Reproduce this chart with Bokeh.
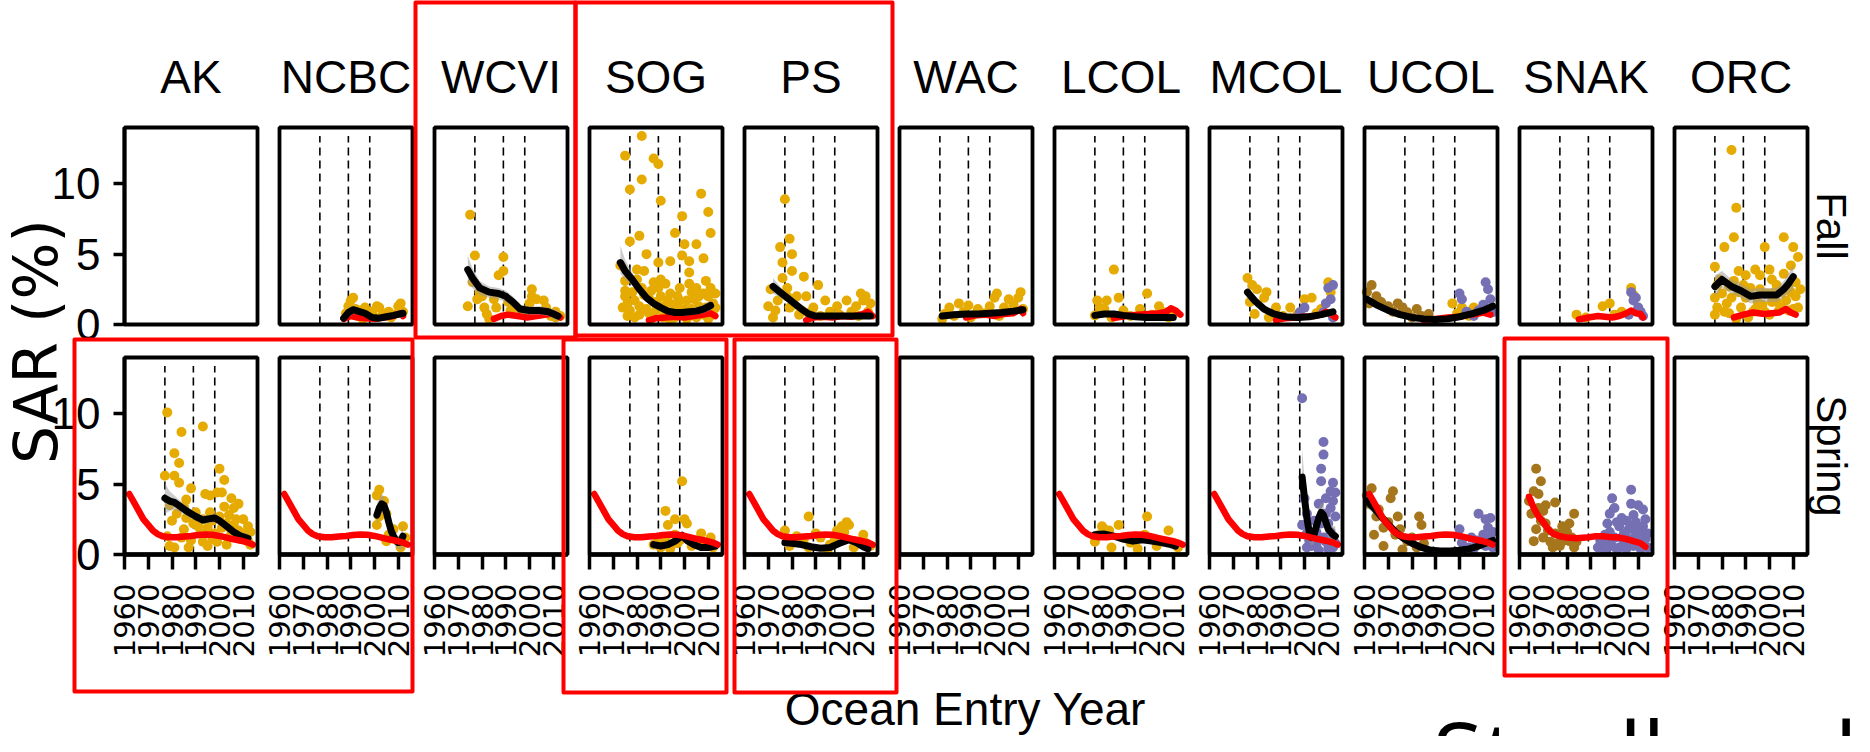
import math
from bokeh.plotting import figure
from bokeh.models import Range1d, FixedTicker, LinearAxis, Label
from bokeh.embed import file_html
from bokeh.resources import INLINE
from bokeh.core.properties import value

# ------------------------------------------------------------------ data
REGIONS = ["AK", "NCBC", "WCVI", "SOG", "PS", "WAC", "LCOL", "MCOL", "UCOL", "SNAK", "ORC"]
SEASONS = ["Fall", "Spring"]
X_TICKS = [1960, 1970, 1980, 1990, 2000, 2010]
Y_TICKS = [0, 5, 10]
REGIME_YEARS = [1977, 1989, 1998]
X_LIMITS = (1960, 2016)
Y_LIMITS = (0, 14)
Y_TITLE = "SAR (%)"
X_TITLE = "Ocean Entry Year"
SPECIES = "Steelhead"

# ---- Fall row: (ocean entry year, SAR %)
fall_ncbc_gold = [(1988, 0.8), (1989, 1.3), (1990, 1.7), (1991, 1.9), (1992, 1.1), (1993, 0.6), (1994, 1.0),
                  (1995, 0.4), (1996, 1.2), (1997, 0.7), (1999, 0.9), (2000, 0.5), (2001, 1.3), (2002, 1.2),
                  (2003, 0.6), (2005, 0.8), (2006, 0.9), (2007, 0.5), (2008, 0.7), (2010, 1.3), (2011, 1.5),
                  (2012, 0.9)]
fall_ncbc_red = [(1987, 0.4), (1990, 0.6), (1993, 0.5), (1996, 0.45), (2000, 0.4), (2004, 0.5), (2008, 0.6),
                 (2011, 0.8), (2012, 0.6)]
fall_ncbc_smooth = [(1987, 0.45, 0.2, 0.75), (1989, 0.85, 0.5, 1.2), (1991, 1.05, 0.75, 1.35), (1993, 0.95, 0.7, 1.2),
                    (1996, 0.8, 0.6, 1.0), (1999, 0.5, 0.3, 0.7), (2002, 0.45, 0.25, 0.65), (2005, 0.55, 0.35, 0.75),
                    (2008, 0.65, 0.45, 0.85), (2012, 0.8, 0.5, 1.1)]

fall_wcvi_gold = [(1975, 7.8), (1977, 4.9), (1989, 4.8), (1989, 3.8), (1987, 3.5), (1974, 1.3), (1978, 1.8),
                  (1981, 1.2), (1982, 0.75), (1985, 1.8), (2001, 2.5), (2001, 2.0), (2003, 1.8), (2000, 1.5),
                  (2006, 1.7), (2007, 1.2), (2011, 0.9), (1991, 1.6), (1996, 1.0), (1976, 3.0), (1979, 2.3),
                  (1992, 1.0), (2004, 0.75), (2011, 0.5), (1983, 0.4), (1994, 1.3), (1998, 0.8), (2009, 0.6),
                  (2013, 0.6), (1980, 2.0), (1986, 1.2)]
fall_wcvi_red = [(1985, 0.4), (1988, 0.6), (1991, 0.7), (1995, 0.6), (1999, 0.5), (2003, 0.6), (2007, 0.7),
                 (2010, 0.8), (2013, 0.5)]
fall_wcvi_smooth = [(1974, 3.9, 3.0, 4.9), (1976, 3.3, 2.6, 4.0), (1979, 2.6, 2.1, 3.1), (1983, 2.3, 1.9, 2.7),
                    (1987, 2.2, 1.8, 2.6), (1990, 2.0, 1.6, 2.4), (1993, 1.6, 1.2, 2.0), (1996, 1.1, 0.8, 1.4),
                    (2000, 1.0, 0.7, 1.3), (2004, 1.0, 0.7, 1.3), (2008, 0.9, 0.6, 1.2), (2012, 0.6, 0.2, 1.0)]

fall_sog_gold = [(1982, 13.4), (1975, 12.0), (1987, 11.8), (1989, 11.4), (1982, 10.3), (1977, 9.6), (1990, 8.8),
                 (2007, 9.3), (2010, 8.0), (1999, 7.7), (2011, 6.5), (1981, 6.3), (1996, 6.5), (1977, 5.9),
                 (2000, 5.7), (2005, 5.7), (1984, 5.0), (1989, 4.4), (1994, 4.5), (1999, 4.9), (2002, 4.5),
                 (2008, 4.7), (1973, 4.2), (1980, 3.9), (1983, 3.8), (2002, 3.7), (1975, 3.1), (1982, 2.6),
                 (1987, 3.0), (1990, 3.2), (2005, 2.6), (2009, 3.1), (1975, 2.0), (1979, 1.7), (1985, 1.9),
                 (1990, 2.0), (1993, 1.7), (1997, 2.0), (2001, 1.7), (2004, 1.8), (2008, 2.2), (2010, 2.0),
                 (1976, 0.6), (1981, 0.7), (1988, 1.0), (1995, 0.8), (2012, 0.7), (1977, 1.0), (1984, 1.1),
                 (1991, 0.5), (1999, 0.7), (2003, 1.1), (2008, 0.7), (1974, 1.2), (1975, 2.4), (1980, 3.2),
                 (1992, 2.9), (2002, 2.9), (1998, 2.6), (2006, 1.3), (2012, 1.5), (1986, 0.4), (1994, 0.3),
                 (2011, 2.6), (1976, 1.5), (1978, 2.3), (1979, 0.5), (1981, 1.3), (1983, 2.1), (1985, 0.8),
                 (1986, 2.4), (1988, 1.6), (1989, 2.6), (1991, 1.3), (1992, 0.9), (1994, 2.2), (1995, 1.4),
                 (1996, 0.5), (1997, 1.2), (1998, 1.7), (2000, 1.1), (2001, 0.4), (2003, 2.3), (2004, 1.0),
                 (2005, 0.5), (2006, 2.0), (2007, 0.9), (2009, 1.2), (2010, 0.4), (2011, 1.0), (2013, 1.2),
                 (2013, 2.2)]
fall_sog_red = [(1985, 0.3), (1988, 0.45), (1992, 0.5), (1996, 0.55), (2000, 0.5), (2004, 0.6), (2008, 0.7),
                (2011, 0.8), (2013, 0.6)]
fall_sog_smooth = [(1973, 4.4, 3.6, 5.6), (1975, 3.8, 3.2, 4.6), (1978, 3.2, 2.8, 3.7), (1981, 2.5, 2.2, 2.8),
                   (1984, 1.9, 1.6, 2.2), (1987, 1.5, 1.25, 1.75), (1990, 1.2, 1.0, 1.45), (1993, 0.95, 0.7, 1.2),
                   (1996, 0.85, 0.6, 1.1), (1999, 0.85, 0.6, 1.1), (2002, 0.9, 0.65, 1.15), (2005, 0.95, 0.7, 1.25),
                   (2008, 1.1, 0.8, 1.4), (2011, 1.35, 1.0, 1.75)]

fall_ps_gold = [(1977, 8.9), (1979, 6.1), (1975, 5.5), (1980, 5.0), (1976, 4.4), (1985, 3.4), (1980, 3.8),
                (1991, 2.8), (1978, 2.6), (1982, 2.0), (1986, 2.0), (1974, 1.7), (1973, 1.0), (1979, 1.2),
                (1989, 1.2), (1994, 1.7), (1999, 1.3), (2003, 1.7), (2007, 1.3), (2010, 1.7), (1972, 0.5),
                (1983, 0.7), (1992, 0.6), (2000, 0.7), (2008, 0.6), (2009, 2.2), (2011, 2.0), (2013, 1.5),
                (1976, 3.3), (1978, 2.0), (1981, 1.4), (1984, 1.0), (1987, 0.8), (1996, 0.9), (2005, 0.9),
                (2012, 0.9), (1970, 1.3), (1971, 2.5)]
fall_ps_red = [(1986, 0.3), (1989, 0.5), (1993, 0.55), (1997, 0.5), (2001, 0.6), (2005, 0.55), (2009, 0.7),
               (2012, 0.9), (2014, 0.6)]
fall_ps_smooth = [(1972, 2.7, 2.2, 3.3), (1975, 2.3, 1.9, 2.7), (1978, 1.9, 1.6, 2.2), (1981, 1.5, 1.25, 1.75),
                  (1984, 1.1, 0.9, 1.35), (1987, 0.75, 0.55, 0.95), (1990, 0.6, 0.4, 0.8), (1994, 0.6, 0.4, 0.8),
                  (1998, 0.6, 0.4, 0.8), (2002, 0.6, 0.4, 0.8), (2006, 0.6, 0.4, 0.8), (2010, 0.6, 0.4, 0.8),
                  (2013, 0.6, 0.35, 0.85)]

fall_wac_gold = [(1981, 1.2), (1985, 1.5), (1989, 1.35), (1993, 1.1), (2000, 1.9), (2001, 2.2), (2006, 1.8),
                 (2010, 1.9), (2004, 1.2), (1979, 0.75), (1992, 0.75), (2005, 0.9), (1983, 0.6), (1987, 0.9),
                 (1996, 0.8), (1998, 1.3), (2008, 1.4), (2012, 1.1), (1990, 0.5), (2002, 0.6), (2011, 2.3),
                 (1978, 0.4)]
fall_wac_red = [(1988, 0.5), (1992, 0.65), (1996, 0.7), (2000, 0.6), (2004, 0.75), (2008, 0.8), (2011, 1.1),
                (2012, 0.8)]
fall_wac_smooth = [(1978, 0.6, 0.4, 0.8), (1983, 0.7, 0.55, 0.85), (1988, 0.75, 0.6, 0.9), (1993, 0.75, 0.6, 0.9),
                   (1998, 0.8, 0.65, 0.95), (2003, 0.85, 0.7, 1.0), (2008, 0.95, 0.8, 1.1), (2012, 1.05, 0.85, 1.25)]

fall_lcol_gold = [(1985, 3.9), (1978, 1.7), (1982, 1.7), (1987, 1.9), (1999, 2.2), (1981, 1.1), (1989, 1.0),
                  (1996, 1.1), (2006, 0.87), (2010, 0.75), (1977, 0.64), (1984, 0.5), (1992, 0.6), (2001, 0.7),
                  (2004, 1.3), (1979, 1.2), (2008, 0.5)]
fall_lcol_red = [(1985, 0.45), (1990, 0.6), (1995, 0.7), (2000, 0.75), (2004, 0.8), (2007, 0.9), (2009, 1.15),
                 (2011, 1.0), (2013, 0.7)]
fall_lcol_smooth = [(1977, 0.65, 0.45, 0.9), (1981, 0.75, 0.6, 0.95), (1985, 0.75, 0.6, 0.9), (1989, 0.65, 0.5, 0.8),
                    (1994, 0.55, 0.4, 0.7), (1999, 0.5, 0.35, 0.65), (2004, 0.5, 0.35, 0.65), (2010, 0.5, 0.3, 0.7)]

fall_mcol_gold = [(1976, 3.3), (1978, 2.8), (1980, 2.5), (1984, 2.3), (1983, 1.9), (1988, 1.2), (1994, 1.2),
                  (2000, 1.8), (2003, 1.9), (2010, 3.0), (2011, 2.3), (2007, 1.1), (1979, 0.75), (1977, 1.6),
                  (1985, 0.5), (1991, 0.6), (1997, 0.7), (2005, 0.8)]
fall_mcol_purple = [(2010, 2.6), (2011, 1.8), (2000, 1.2), (2008, 0.87), (2012, 0.5), (1998, 0.87), (2009, 1.5),
                    (2012, 2.8)]
fall_mcol_red = [(1988, 0.3), (1992, 0.45), (1996, 0.5), (2000, 0.55), (2004, 0.6), (2007, 0.7), (2009, 0.9),
                 (2011, 0.75), (2013, 0.5)]
fall_mcol_smooth = [(1976, 2.3, 1.8, 2.8), (1979, 1.7, 1.4, 2.0), (1983, 1.1, 0.9, 1.3), (1987, 0.75, 0.6, 0.9),
                    (1992, 0.55, 0.4, 0.7), (1997, 0.5, 0.35, 0.65), (2002, 0.55, 0.4, 0.7), (2007, 0.7, 0.5, 0.9),
                    (2012, 0.9, 0.6, 1.2)]

fall_ucol_brown = [(1963, 2.8), (1965, 2.0), (1970, 1.3), (1974, 1.5), (1982, 1.1), (1978, 0.87), (1987, 0.75),
                   (1961, 2.3), (1967, 1.6), (1972, 0.9), (1976, 1.2), (1980, 0.5), (1984, 0.6), (1962, 1.5)]
fall_ucol_gold = [(1997, 1.5), (2001, 1.2), (2006, 1.2), (1999, 0.8), (2004, 0.6)]
fall_ucol_purple = [(2000, 2.2), (2001, 1.8), (2011, 3.0), (2012, 2.5), (2013, 1.8), (2008, 1.0), (2014, 0.87),
                    (2010, 1.4), (2006, 0.6), (2003, 0.9)]
fall_ucol_red = [(1985, 0.3), (1990, 0.4), (1995, 0.5), (2000, 0.55), (2004, 0.7), (2007, 0.75), (2010, 0.85),
                 (2013, 0.7)]
fall_ucol_smooth = [(1961, 1.8, 1.5, 2.1), (1965, 1.4, 1.2, 1.6), (1970, 1.0, 0.85, 1.15), (1975, 0.7, 0.55, 0.85),
                    (1980, 0.5, 0.35, 0.65), (1985, 0.4, 0.25, 0.55), (1990, 0.35, 0.2, 0.5), (1995, 0.4, 0.25, 0.55),
                    (2000, 0.55, 0.4, 0.7), (2005, 0.75, 0.6, 0.9), (2010, 1.0, 0.8, 1.2), (2014, 1.3, 1.0, 1.6)]

fall_snak_gold = [(1984, 0.7), (1995, 1.3), (1998, 1.5), (2007, 2.6), (2008, 2.1), (2000, 0.7), (1988, 0.5),
                  (2003, 0.9)]
fall_snak_purple = [(2007, 2.3), (2008, 1.7), (2010, 1.2), (2012, 0.6), (2006, 0.7), (2009, 1.9), (2011, 0.9)]
fall_snak_red = [(1985, 0.36), (1989, 0.5), (1993, 0.6), (1996, 0.55), (1999, 0.5), (2002, 0.6), (2005, 0.8),
                 (2007, 1.0), (2009, 0.8), (2011, 0.75), (2012, 0.5)]

fall_orc_gold = [(1984, 12.4), (1986, 8.3), (1985, 6.2), (1981, 5.5), (1998, 5.5), (2006, 6.2), (2010, 5.5),
                 (2009, 4.2), (1977, 4.1), (1994, 3.9), (2000, 3.9), (1990, 3.5), (1979, 3.2), (1983, 2.7),
                 (1987, 2.3), (1996, 2.5), (2001, 3.2), (2005, 2.3), (2008, 2.7), (1977, 1.9), (1982, 1.5),
                 (1990, 1.9), (1997, 1.4), (2003, 1.6), (1977, 0.7), (1983, 0.8), (1993, 0.9), (2000, 0.7),
                 (2010, 1.1), (1978, 2.8), (1980, 2.2), (1985, 3.1), (1988, 1.2), (1992, 2.6), (1995, 1.6),
                 (1999, 2.2), (2002, 2.3), (2004, 1.0), (2007, 1.7), (2011, 2.0), (2012, 1.2), (1986, 0.4),
                 (1991, 0.5), (1978, 1.2), (1981, 0.9), (1984, 1.9), (1987, 3.8), (1989, 2.8), (1994, 1.1),
                 (1996, 3.5), (1998, 0.9), (2001, 1.6), (2003, 2.8), (2005, 1.2), (2006, 3.6), (2008, 1.0),
                 (2009, 2.3), (2011, 3.0), (2012, 4.8), (2013, 2.5)]
fall_orc_red = [(1985, 0.5), (1989, 0.7), (1993, 0.85), (1998, 0.75), (2004, 0.85), (2007, 1.1), (2009, 0.85),
                (2011, 0.7)]
fall_orc_smooth = [(1977, 2.7, 2.0, 3.5), (1980, 3.2, 2.6, 3.8), (1984, 2.7, 2.2, 3.2), (1988, 2.4, 1.9, 2.9),
                   (1992, 2.0, 1.5, 2.5), (1996, 2.1, 1.6, 2.6), (2000, 2.1, 1.6, 2.6), (2003, 2.1, 1.6, 2.6),
                   (2006, 2.5, 1.9, 3.1), (2008, 2.9, 2.2, 3.6), (2010, 3.4, 2.5, 4.3)]

# ---- Spring row
spring_red = [(1962, 4.3), (1964, 3.7), (1966, 3.1), (1968, 2.5), (1970, 2.1), (1972, 1.7), (1974, 1.45),
              (1976, 1.3), (1979, 1.22), (1982, 1.22), (1985, 1.28), (1988, 1.32), (1991, 1.38), (1994, 1.42),
              (1997, 1.4), (2000, 1.32), (2003, 1.2), (2006, 1.08), (2009, 0.98), (2012, 0.85), (2014, 0.7)]
spring_snak_red = [(1964, 4.1), (1966, 3.3), (1968, 2.7), (1970, 2.3), (1972, 1.8), (1974, 1.5), (1977, 1.3),
                   (1980, 1.2), (1984, 1.15), (1988, 1.2), (1992, 1.3), (1995, 1.3), (1998, 1.25), (2002, 1.2),
                   (2005, 1.1), (2008, 0.95), (2011, 0.8), (2013, 0.55)]

spring_ak_gold = [(1978, 10.1), (1993, 9.1), (1984, 8.7), (1981, 7.2), (1983, 6.5), (1977, 5.6), (1981, 5.6),
                  (1983, 5.1), (2000, 6.1), (2002, 5.3), (1988, 4.7), (1994, 4.3), (1999, 4.4), (2005, 4.0),
                  (1996, 4.2), (1980, 2.4), (1985, 3.4), (1986, 3.9), (1990, 3.0), (1993, 2.5), (1996, 3.0),
                  (2000, 2.7), (2004, 2.8), (2007, 2.5), (2010, 2.5), (2012, 2.0), (1979, 0.6), (1981, 0.5),
                  (1987, 0.5), (1995, 0.6), (2003, 0.7), (2009, 1.1), (2012, 0.95), (1985, 1.8), (1992, 1.5),
                  (1998, 1.5), (2005, 1.7), (2010, 1.5), (1978, 1.3), (2001, 4.4), (2003, 2.2), (2013, 1.6),
                  (1989, 2.2), (1997, 1.1), (1979, 3.5), (1982, 2.9), (1984, 1.2), (1986, 2.6), (1988, 1.0),
                  (1991, 2.0), (1993, 0.9), (1995, 1.9), (1997, 2.4), (1999, 0.9), (2001, 1.9), (2002, 3.4),
                  (2004, 1.2), (2006, 2.1), (2008, 1.7), (2011, 1.2), (2013, 0.7), (2006, 3.3), (2008, 3.6)]
spring_ak_smooth = [(1977, 4.0, 2.9, 5.1), (1979, 3.8, 3.1, 4.5), (1981, 3.7, 3.2, 4.2), (1984, 3.35, 2.95, 3.75),
                    (1987, 3.0, 2.65, 3.35), (1990, 2.7, 2.4, 3.0), (1993, 2.45, 2.15, 2.75), (1996, 2.55, 2.25, 2.85),
                    (1998, 2.6, 2.3, 2.9), (2000, 2.4, 2.1, 2.7), (2003, 2.0, 1.7, 2.3), (2006, 1.6, 1.3, 1.9),
                    (2009, 1.3, 1.0, 1.6), (2012, 1.15, 0.8, 1.5)]

spring_ncbc_gold = [(2002, 4.6), (2001, 4.2), (2001, 2.1), (2004, 3.8), (2005, 2.9), (2006, 1.4), (2012, 2.0),
                    (2010, 0.95), (2011, 0.5), (2005, 0.95), (2003, 3.2), (2002, 2.7), (2008, 1.8), (2013, 1.2)]
spring_ncbc_smooth = [(2001, 2.8, 2.0, 3.6), (2002, 3.3, 2.7, 4.0), (2003, 3.6, 3.0, 4.3), (2004, 3.5, 2.9, 4.1),
                      (2005, 3.0, 2.4, 3.6), (2006, 2.3, 1.7, 2.9), (2007, 1.7, 1.1, 2.3), (2008, 1.3, 0.8, 1.8),
                      (2009, 1.0, 0.5, 1.5), (2010, 0.85, 0.4, 1.3), (2011, 0.9, 0.3, 1.5), (2012, 1.3, 0.4, 2.2)]

spring_sog_gold = [(1999, 5.2), (1992, 3.1), (1993, 2.1), (1996, 2.5), (2000, 2.5), (1996, 1.4), (2007, 1.5),
                   (1987, 0.7), (1990, 0.5), (2003, 0.6), (2012, 0.5), (1992, 1.1), (1997, 0.8), (2001, 2.2),
                   (1998, 1.0), (2005, 0.9), (2009, 0.7), (2011, 1.2), (1994, 0.4), (1989, 1.0)]
spring_sog_smooth = [(1987, 0.7, 0.4, 1.0), (1990, 0.6, 0.4, 0.8), (1993, 0.7, 0.5, 0.9), (1996, 0.95, 0.7, 1.2),
                     (1999, 1.35, 1.0, 1.7), (2001, 1.0, 0.7, 1.3), (2004, 0.7, 0.45, 0.95), (2007, 0.5, 0.3, 0.7),
                     (2010, 0.5, 0.3, 0.75), (2013, 0.6, 0.3, 0.9)]

spring_ps_gold = [(1987, 2.7), (1977, 1.7), (1982, 1.3), (1990, 1.5), (2001, 2.0), (2004, 2.1), (1999, 1.7),
                  (2010, 1.4), (1979, 0.6), (1987, 0.5), (1996, 0.7), (2006, 0.5), (2011, 0.83), (1985, 1.1),
                  (1992, 1.2), (2002, 1.6), (2003, 2.3), (1995, 0.3), (1998, 1.1), (2008, 0.9), (2013, 0.6),
                  (1980, 1.0)]
spring_ps_smooth = [(1977, 0.85, 0.5, 1.2), (1980, 0.8, 0.55, 1.05), (1984, 0.7, 0.5, 0.9), (1988, 0.55, 0.35, 0.75),
                    (1992, 0.45, 0.25, 0.65), (1996, 0.5, 0.3, 0.7), (2000, 0.8, 0.55, 1.05), (2004, 1.05, 0.8, 1.3),
                    (2007, 0.85, 0.6, 1.1), (2010, 0.55, 0.3, 0.8), (2012, 0.4, 0.1, 0.7)]

spring_lcol_gold = [(1999, 2.7), (1980, 2.0), (1987, 2.1), (1983, 1.7), (1979, 1.4), (1989, 1.2), (1984, 0.5),
                    (1992, 0.83), (1998, 1.4), (2003, 0.6), (2008, 1.7), (2010, 0.83), (1977, 0.9), (1995, 0.4),
                    (2005, 1.0), (2012, 0.5), (1981, 1.8)]
spring_lcol_smooth = [(1977, 1.4, 1.1, 1.7), (1981, 1.45, 1.2, 1.7), (1985, 1.3, 1.1, 1.5), (1989, 1.1, 0.9, 1.3),
                      (1993, 0.95, 0.75, 1.15), (1997, 1.05, 0.85, 1.25), (2001, 0.95, 0.75, 1.15),
                      (2005, 0.85, 0.65, 1.05), (2009, 0.7, 0.5, 0.9), (2011, 0.6, 0.35, 0.85)]

spring_mcol_purple = [(1999, 11.1), (2008, 8.0), (2008, 7.1), (2007, 6.1), (2007, 5.2), (2012, 5.1), (2013, 4.4),
                      (2009, 4.0), (2006, 3.6), (2011, 3.3), (2001, 2.9), (1999, 2.1), (2013, 2.7), (2003, 1.4),
                      (2008, 1.2), (2001, 0.5), (2012, 0.5), (2005, 0.7), (2010, 2.2), (2004, 2.4), (2002, 1.0),
                      (2000, 4.0), (2011, 1.6), (2006, 0.3), (2001, 1.5), (2003, 0.6), (2004, 1.1), (2005, 1.6),
                      (2007, 2.2), (2009, 0.9), (2010, 0.4), (2012, 1.3), (2013, 0.8), (2009, 2.9), (2011, 4.5),
                      (2012, 3.8)]
spring_mcol_smooth = [(1999, 5.5, 3.5, 7.6), (2000, 4.0, 2.6, 5.3), (2001, 2.6, 1.7, 3.5), (2002, 1.6, 0.9, 2.3),
                      (2003, 1.2, 0.6, 1.9), (2004, 1.4, 0.8, 2.0), (2005, 2.0, 1.3, 2.7), (2006, 2.6, 1.9, 3.3),
                      (2007, 3.0, 2.2, 3.7), (2008, 2.8, 2.1, 3.5), (2009, 2.3, 1.6, 3.0), (2010, 1.8, 1.2, 2.4),
                      (2012, 1.4, 0.8, 2.0), (2013, 1.3, 0.6, 2.0)]

spring_ucol_brown = [(1963, 4.7), (1972, 4.5), (1971, 4.0), (1962, 3.6), (1965, 2.7), (1974, 2.7), (1983, 2.7),
                     (1984, 2.1), (1968, 1.9), (1973, 1.4), (1978, 0.95), (1968, 0.6), (1976, 0.36), (1964, 1.4),
                     (1961, 4.2), (1966, 3.2), (1970, 2.3), (1975, 1.8), (1980, 1.2), (1982, 0.5), (1985, 0.8)]
spring_ucol_purple = [(2008, 2.9), (2000, 1.8), (2012, 1.9), (2010, 1.4), (2004, 0.5), (2014, 0.5), (2001, 0.83),
                      (2007, 1.0), (2011, 2.5), (2013, 1.2), (2006, 0.4), (2005, 1.2), (2009, 0.8), (2012, 0.9),
                      (2013, 2.6), (2014, 1.6), (2011, 0.6)]
spring_ucol_smooth = [(1961, 3.8, 3.3, 4.3), (1964, 3.3, 2.9, 3.7), (1967, 2.7, 2.35, 3.05), (1970, 2.15, 1.85, 2.45),
                      (1973, 1.6, 1.35, 1.85), (1976, 1.2, 0.95, 1.45), (1980, 0.8, 0.6, 1.0), (1984, 0.5, 0.3, 0.7),
                      (1988, 0.3, 0.1, 0.5), (1992, 0.25, 0.05, 0.45), (1996, 0.25, 0.05, 0.45), (2000, 0.3, 0.1, 0.5),
                      (2004, 0.4, 0.2, 0.6), (2008, 0.6, 0.4, 0.8), (2011, 0.8, 0.55, 1.05), (2014, 1.0, 0.7, 1.3)]

spring_snak_brown = [(1967, 6.1), (1969, 5.2), (1968, 4.3), (1964, 3.8), (1975, 3.7), (1970, 3.1), (1983, 2.9),
                     (1969, 2.4), (1972, 1.7), (1977, 1.4), (1981, 0.95), (1974, 0.5), (1983, 0.5), (1966, 0.95),
                     (1971, 3.5), (1978, 2.0), (1976, 0.8), (1980, 1.6), (1965, 2.9), (1982, 1.2), (1966, 4.5),
                     (1968, 3.3), (1970, 1.2), (1971, 2.2), (1973, 0.9), (1975, 1.5), (1977, 0.6), (1979, 1.0),
                     (1981, 2.2), (1984, 0.9), (1967, 1.8)]
spring_snak_purple = [(2007, 4.6), (1999, 4.0), (2007, 3.6), (1998, 2.9), (2005, 2.4), (2012, 2.0), (1996, 1.4),
                      (2003, 1.2), (2010, 0.95), (1993, 0.5), (2001, 0.36), (2014, 0.5), (2009, 1.4), (2000, 3.3),
                      (2008, 2.8), (2002, 2.0), (2011, 1.6), (1995, 0.7), (2004, 0.8), (2013, 1.1), (2006, 1.8),
                      (1997, 2.2), (1994, 1.0), (1996, 0.3), (1997, 0.8), (1998, 1.6), (1999, 0.6), (2000, 1.2),
                      (2001, 2.3), (2002, 0.5), (2003, 2.6), (2004, 1.5), (2005, 0.4), (2006, 1.1), (2007, 2.0),
                      (2008, 0.6), (2009, 2.3), (2010, 1.9), (2011, 0.4), (2012, 1.0), (2013, 2.5), (2014, 1.5),
                      (2012, 3.2), (2010, 3.5)]

# ---- which series belong to which facet (season, region)
FALL = {
    "NCBC": dict(points=[(fall_ncbc_gold, "gold")], red=fall_ncbc_red, smooth=fall_ncbc_smooth),
    "WCVI": dict(points=[(fall_wcvi_gold, "gold")], red=fall_wcvi_red, smooth=fall_wcvi_smooth),
    "SOG": dict(points=[(fall_sog_gold, "gold")], red=fall_sog_red, smooth=fall_sog_smooth),
    "PS": dict(points=[(fall_ps_gold, "gold")], red=fall_ps_red, smooth=fall_ps_smooth),
    "WAC": dict(points=[(fall_wac_gold, "gold")], red=fall_wac_red, smooth=fall_wac_smooth),
    "LCOL": dict(points=[(fall_lcol_gold, "gold")], red=fall_lcol_red, smooth=fall_lcol_smooth),
    "MCOL": dict(points=[(fall_mcol_gold, "gold"), (fall_mcol_purple, "purple")], red=fall_mcol_red,
                 smooth=fall_mcol_smooth),
    "UCOL": dict(points=[(fall_ucol_brown, "brown"), (fall_ucol_gold, "gold"), (fall_ucol_purple, "purple")],
                 red=fall_ucol_red, smooth=fall_ucol_smooth),
    "SNAK": dict(points=[(fall_snak_gold, "gold"), (fall_snak_purple, "purple")], red=fall_snak_red, smooth=None),
    "ORC": dict(points=[(fall_orc_gold, "gold")], red=fall_orc_red, smooth=fall_orc_smooth),
}
SPRING = {
    "AK": dict(points=[(spring_ak_gold, "gold")], red=spring_red, smooth=spring_ak_smooth),
    "NCBC": dict(points=[(spring_ncbc_gold, "gold")], red=spring_red, smooth=spring_ncbc_smooth),
    "SOG": dict(points=[(spring_sog_gold, "gold")], red=spring_red, smooth=spring_sog_smooth),
    "PS": dict(points=[(spring_ps_gold, "gold")], red=spring_red, smooth=spring_ps_smooth),
    "LCOL": dict(points=[(spring_lcol_gold, "gold")], red=spring_red, smooth=spring_lcol_smooth),
    "MCOL": dict(points=[(spring_mcol_purple, "purple")], red=spring_red, smooth=spring_mcol_smooth),
    "UCOL": dict(points=[(spring_ucol_brown, "brown"), (spring_ucol_purple, "purple")], red=spring_red,
                 smooth=spring_ucol_smooth),
    "SNAK": dict(points=[(spring_snak_brown, "brown"), (spring_snak_purple, "purple")], red=spring_snak_red,
                 smooth=None),
}

# ------------------------------------------------------------------ style / layout (page pixels)
COLORS = {"gold": "#E6AB02", "brown": "#A6761D", "purple": "#7570B3"}
RED = "#FF0000"
W, H = 1854, 736
PANEL_W, PANEL_H = 133, 197
PITCH = 155
COL0 = 124
ROW_TOP = [127, 357]
DASH_TOP = 13.4
SANS = "Liberation Sans"

p = figure(width=W, height=H, output_backend="svg", toolbar_location=None,
           x_range=Range1d(0, W), y_range=Range1d(H, 0), x_axis_type=None, y_axis_type=None,
           min_border=0, outline_line_color=None, background_fill_color="white", border_fill_color="white")

# one named x range per facet column and one named y range per facet row, placed on the page
sx = (X_LIMITS[1] - X_LIMITS[0]) / PANEL_W
sy = (Y_LIMITS[1] - Y_LIMITS[0]) / PANEL_H
xr, yr = {}, {}
for i in range(len(REGIONS)):
    start = X_LIMITS[0] - (COL0 + PITCH * i) * sx
    xr[f"x{i}"] = Range1d(start, start + W * sx)
for r in range(len(SEASONS)):
    start = Y_LIMITS[0] - (H - ROW_TOP[r] - PANEL_H) * sy
    yr[f"y{r}"] = Range1d(start, start + H * sy)
p.extra_x_ranges = xr
p.extra_y_ranges = yr


def draw_panel(row, col, spec):
    kw = dict(x_range_name=f"x{col}", y_range_name=f"y{row}")
    p.quad(left=[X_LIMITS[0]], right=[X_LIMITS[1]], bottom=[Y_LIMITS[0]], top=[Y_LIMITS[1]],
           fill_color="white", line_color=None, **kw)
    if spec is not None:
        n = len(REGIME_YEARS)
        p.segment(x0=REGIME_YEARS, y0=[Y_LIMITS[0]] * n, x1=REGIME_YEARS, y1=[DASH_TOP] * n,
                  line_color="black", line_width=1.6, line_dash="8 5", **kw)
        for pts, cname in spec["points"]:
            p.scatter([a for a, _ in pts], [b for _, b in pts], size=10,
                      fill_color=COLORS[cname], line_color=None, **kw)

        def draw_red():
            rr = spec["red"]
            p.line([a for a, _ in rr], [b for _, b in rr], line_color=RED, line_width=6.5,
                   line_join="round", line_cap="round", **kw)

        def draw_smooth():
            s = spec["smooth"]
            if s is None:
                return
            xs = [t[0] for t in s]
            p.varea(x=xs, y1=[t[2] for t in s], y2=[t[3] for t in s], fill_color="#999999",
                    fill_alpha=0.5, **kw)
            p.line(xs, [t[1] for t in s], line_color="black", line_width=7, line_join="round",
                   line_cap="round", **kw)

        if row == 0:
            draw_red()
            draw_smooth()
        else:
            draw_smooth()
            draw_red()
    p.quad(left=[X_LIMITS[0]], right=[X_LIMITS[1]], bottom=[Y_LIMITS[0]], top=[Y_LIMITS[1]],
           fill_color=None, line_color="black", line_width=3.8, **kw)
    if col == 0:
        ya = LinearAxis(x_range_name=f"x{col}", y_range_name=f"y{row}", fixed_location=X_LIMITS[0],
                        bounds=Y_LIMITS, ticker=FixedTicker(ticks=Y_TICKS, minor_ticks=[]),
                        axis_line_width=3.8, axis_line_color="black",
                        major_tick_line_width=3.5, major_tick_out=11, major_tick_in=0,
                        minor_tick_line_color=None, major_label_standoff=13,
                        major_label_text_font=SANS, major_label_text_font_size="44px",
                        major_label_text_color="black")
        p.add_layout(ya, "left")
    if row == 1:
        xa = LinearAxis(x_range_name=f"x{col}", y_range_name=f"y{row}", fixed_location=Y_LIMITS[0],
                        bounds=X_LIMITS, ticker=FixedTicker(ticks=X_TICKS, minor_ticks=[]),
                        axis_line_width=4.5, axis_line_color="black",
                        major_tick_line_width=3.5, major_tick_out=15, major_tick_in=0,
                        minor_tick_line_color=None, major_label_standoff=14,
                        major_label_orientation=math.pi / 2,
                        major_label_text_font="DejaVu Sans", major_label_text_font_size="29px",
                        major_label_text_color="black")
        p.add_layout(xa, "below")


for col, region in enumerate(REGIONS):
    draw_panel(0, col, FALL.get(region))
    draw_panel(1, col, SPRING.get(region))

# facet strip labels and titles (anchored at the middle of each text line)
p.text(x=[COL0 + PITCH * i + PANEL_W / 2 for i in range(len(REGIONS))], y=[76] * len(REGIONS), text=REGIONS,
       text_font=value(SANS), text_font_size="46px", text_align="center", text_baseline="middle",
       text_line_height=1.0, text_color="black")
p.text(x=[1831, 1831], y=[ROW_TOP[r] + PANEL_H / 2 for r in range(2)], text=SEASONS,
       angle=-math.pi / 2, text_font=value(SANS), text_font_size="42px",
       text_align="center", text_baseline="middle", text_line_height=1.0, text_color="black")
p.text(x=[35], y=[341], text=[Y_TITLE], angle=math.pi / 2, text_font=value("DejaVu Sans"),
       text_font_size="60px", text_align="center", text_baseline="middle", text_line_height=1.0,
       text_color="black")
p.text(x=[965], y=[708], text=[X_TITLE], text_font=value(SANS), text_font_size="46px",
       text_align="center", text_baseline="middle", text_line_height=1.0, text_color="black")
p.add_layout(Label(x=1432, y=752, text=SPECIES, text_font="Open Sans", text_font_size="92px",
                   text_baseline="middle", text_line_height=1.0, text_color="black"))
# red highlight boxes drawn over the figure
p.quad(left=[415, 575, 74, 563, 734, 1504], right=[575, 892, 412, 726, 896, 1667],
       top=[2, 2, 339, 339, 339, 338], bottom=[337, 335, 691, 692, 692, 675],
       fill_color=None, line_color=RED, line_width=4, line_join="round", level="overlay")

open("out.html", "w").write(file_html(p, INLINE))
